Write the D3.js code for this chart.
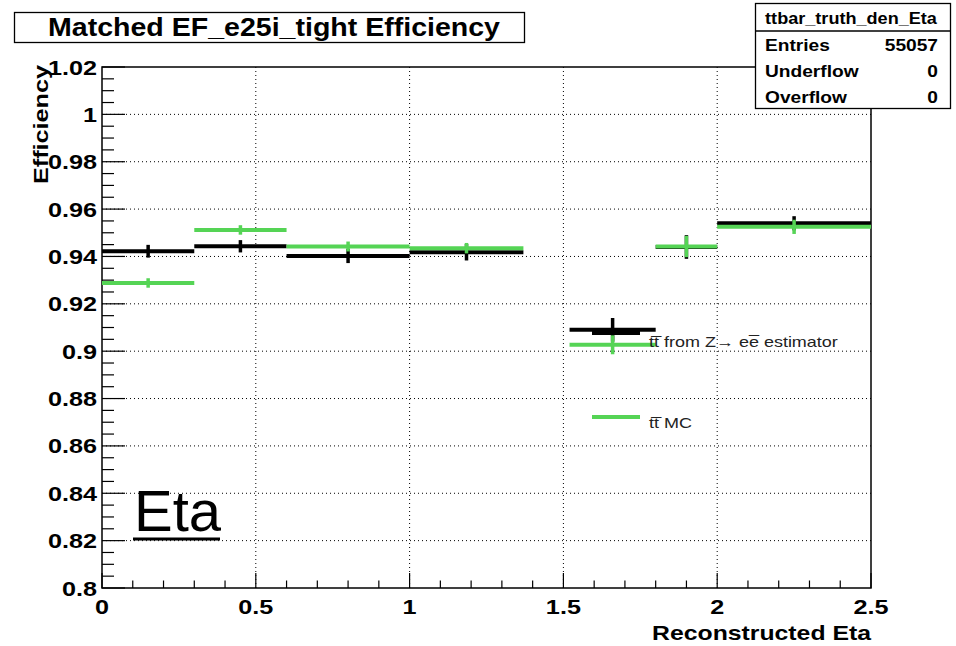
<!DOCTYPE html>
<html>
<head>
<meta charset="utf-8">
<script src="https://cdn.jsdelivr.net/npm/d3@7"></script>
<style>
  body { margin: 0; background: #fff; }
  text { font-family: "Liberation Sans", Arial, sans-serif; }
</style>
</head>
<body>
<svg id="chart" width="956" height="646"></svg>
<script>
// bin edges (low, high) in eta
var binLo = [0, 0.3, 0.6, 1.0, 1.52, 1.8, 2.0];
var binHi = [0.3, 0.6, 1.0, 1.37, 1.8, 2.0, 2.5];

// tt from Z->ee estimator (black)
var zeeEff = [0.9422, 0.9443, 0.9402, 0.9418, 0.9090, 0.9440, 0.9540];
var zeeErr = [0.0027, 0.0026, 0.0030, 0.0035, 0.0050, 0.0050, 0.0030];

// tt MC (green)
var mcEff = [0.9288, 0.9512, 0.9442, 0.9435, 0.9027, 0.9442, 0.9525];
var mcErr = [0.0020, 0.0020, 0.0021, 0.0022, 0.0040, 0.0045, 0.0030];

var yTicks = [0.8, 0.82, 0.84, 0.86, 0.88, 0.9, 0.92, 0.94, 0.96, 0.98, 1, 1.02];
var xTicks = [0, 0.5, 1, 1.5, 2, 2.5];

var statNames = ["Entries", "Underflow", "Overflow"];
var statValues = ["55057", "0", "0"];

var svg = d3.select("#chart");
var margin = {top: 67, right: 85, bottom: 58, left: 102};
var width = 956 - margin.left - margin.right;
var height = 646 - margin.top - margin.bottom;

var x = d3.scaleLinear().domain([0, 2.5]).range([margin.left, margin.left + width]);
var y = d3.scaleLinear().domain([0.8, 1.02]).range([margin.top + height, margin.top]);

var green = "#55d455";

// the reference font is wider than Liberation, so stretch the text a bit
function stretch(sel, f) {
    sel.each(function () {
        var l = this.getComputedTextLength();
        d3.select(this).attr("textLength", l * f).attr("lengthAdjust", "spacingAndGlyphs");
    });
}

// grid
var grid = svg.append("g").attr("stroke", "#000").attr("stroke-width", 1)
    .attr("stroke-dasharray", "1,3");
grid.selectAll(".gx").data(xTicks.slice(1, -1)).enter().append("line")
    .attr("x1", x).attr("x2", x)
    .attr("y1", margin.top).attr("y2", margin.top + height);
grid.selectAll(".gy").data(yTicks.slice(1, -1)).enter().append("line")
    .attr("y1", y).attr("y2", y)
    .attr("x1", margin.left).attr("x2", margin.left + width);

// ticks (ROOT style, inward)
var ticks = svg.append("g").attr("stroke", "#000").attr("stroke-width", 1.2);
var yMinor = d3.range(0, 45).map(function (i) { return 0.8 + i * 0.005; });
ticks.selectAll(".ty").data(yMinor).enter().append("line")
    .attr("x1", margin.left)
    .attr("x2", function (d, i) { return margin.left + (i % 4 === 0 ? 23 : 12); })
    .attr("y1", y).attr("y2", y);
var xMinor = d3.range(0, 26).map(function (i) { return i * 0.1; });
ticks.selectAll(".tx").data(xMinor).enter().append("line")
    .attr("y1", margin.top + height)
    .attr("y2", function (d, i) { return margin.top + height - (i % 5 === 0 ? 15 : 7.5); })
    .attr("x1", x).attr("x2", x);

// frame
svg.append("rect")
    .attr("x", margin.left).attr("y", margin.top)
    .attr("width", width).attr("height", height)
    .attr("fill", "none").attr("stroke", "#000").attr("stroke-width", 1.5);

// tick labels
var yl = svg.append("g").selectAll("text").data(yTicks).enter().append("text")
    .attr("x", margin.left - 5).attr("y", function (d) { return y(d) + 7.5; })
    .attr("text-anchor", "end").attr("font-size", 21).attr("font-weight", "bold")
    .text(function (d) { return +d.toFixed(2); });
stretch(yl, 1.2);
var xl = svg.append("g").selectAll("text").data(xTicks).enter().append("text")
    .attr("x", x).attr("y", 614)
    .attr("text-anchor", "middle").attr("font-size", 21).attr("font-weight", "bold")
    .text(function (d) { return d; });
stretch(xl, 1.2);

// axis titles
var yt = svg.append("text")
    .attr("transform", "translate(48,65) rotate(-90)")
    .attr("text-anchor", "end").attr("font-size", 21).attr("font-weight", "bold")
    .text("Efficiency");
stretch(yt, 1.2);
var xt = svg.append("text")
    .attr("x", margin.left + width).attr("y", 640)
    .attr("text-anchor", "end").attr("font-size", 21).attr("font-weight", "bold")
    .text("Reconstructed Eta");
stretch(xt, 1.18);

// data series
function drawSeries(vals, errs, color, cls) {
    var g = svg.append("g").attr("stroke", color);
    var idx = d3.range(vals.length);
    g.selectAll("." + cls + "h").data(idx).enter().append("line")
        .attr("x1", function (i) { return x(binLo[i]); })
        .attr("x2", function (i) { return x(binHi[i]); })
        .attr("y1", function (i) { return y(vals[i]); })
        .attr("y2", function (i) { return y(vals[i]); })
        .attr("stroke-width", 4);
    g.selectAll("." + cls + "v").data(idx).enter().append("line")
        .attr("x1", function (i) { return x((binLo[i] + binHi[i]) / 2); })
        .attr("x2", function (i) { return x((binLo[i] + binHi[i]) / 2); })
        .attr("y1", function (i) { return y(vals[i] - errs[i]); })
        .attr("y2", function (i) { return y(vals[i] + errs[i]); })
        .attr("stroke-width", 3.5);
}
drawSeries(zeeEff, zeeErr, "#000", "zee");
drawSeries(mcEff, mcErr, green, "mc");

// legend
var legend = [
    {label: "tt\u0305 from Z\u2192 ee\u0305 estimator", color: "#000", ly: 333, ty: 347},
    {label: "tt\u0305 MC", color: green, ly: 417, ty: 428}
];
var lg = svg.append("g");
lg.selectAll("line").data(legend).enter().append("line")
    .attr("x1", 592).attr("x2", 640)
    .attr("y1", function (d) { return d.ly; }).attr("y2", function (d) { return d.ly; })
    .attr("stroke", function (d) { return d.color; }).attr("stroke-width", 4);
var lt = lg.selectAll("text").data(legend).enter().append("text")
    .attr("x", 649).attr("y", function (d) { return d.ty; })
    .attr("font-size", 14.5).attr("fill", "#222")
    .text(function (d) { return d.label; });
stretch(lt, 1.24);

// big Eta label
var eta = svg.append("text")
    .attr("x", 134).attr("y", 531)
    .attr("font-size", 58).attr("fill", "#000")
    .text("Eta");
svg.append("line")
    .attr("x1", 133).attr("x2", 220).attr("y1", 539).attr("y2", 539)
    .attr("stroke", "#000").attr("stroke-width", 3);

// title box
svg.append("rect")
    .attr("x", 14.5).attr("y", 12.5).attr("width", 510).attr("height", 30)
    .attr("fill", "#fff").attr("stroke", "#000").attr("stroke-width", 1.3);
var tt = svg.append("text")
    .attr("x", 274).attr("y", 36)
    .attr("text-anchor", "middle").attr("font-size", 25).attr("font-weight", "bold")
    .text("Matched EF_e25i_tight Efficiency");
tt.attr("textLength", 452).attr("lengthAdjust", "spacingAndGlyphs");

// stats box
var sb = svg.append("g");
sb.append("rect")
    .attr("x", 755.5).attr("y", 3.5).attr("width", 195).attr("height", 105)
    .attr("fill", "#fff").attr("stroke", "#000").attr("stroke-width", 1.3);
sb.append("line")
    .attr("x1", 755.5).attr("x2", 950.5).attr("y1", 31).attr("y2", 31)
    .attr("stroke", "#000").attr("stroke-width", 1.3);
var sh = sb.append("text")
    .attr("x", 851).attr("y", 24)
    .attr("text-anchor", "middle").attr("font-size", 16).attr("font-weight", "bold")
    .text("ttbar_truth_den_Eta");
stretch(sh, 1.13);
var sn = sb.selectAll(".sn").data(statNames).enter().append("text")
    .attr("x", 765).attr("y", function (d, i) { return 51 + i * 26; })
    .attr("font-size", 16.5).attr("font-weight", "bold")
    .text(function (d) { return d; });
stretch(sn, 1.16);
var sv = sb.selectAll(".sv").data(statValues).enter().append("text")
    .attr("x", 938).attr("y", function (d, i) { return 51 + i * 26; })
    .attr("text-anchor", "end").attr("font-size", 16.5).attr("font-weight", "bold")
    .text(function (d) { return d; });
stretch(sv, 1.16);
</script>
</body>
</html>
